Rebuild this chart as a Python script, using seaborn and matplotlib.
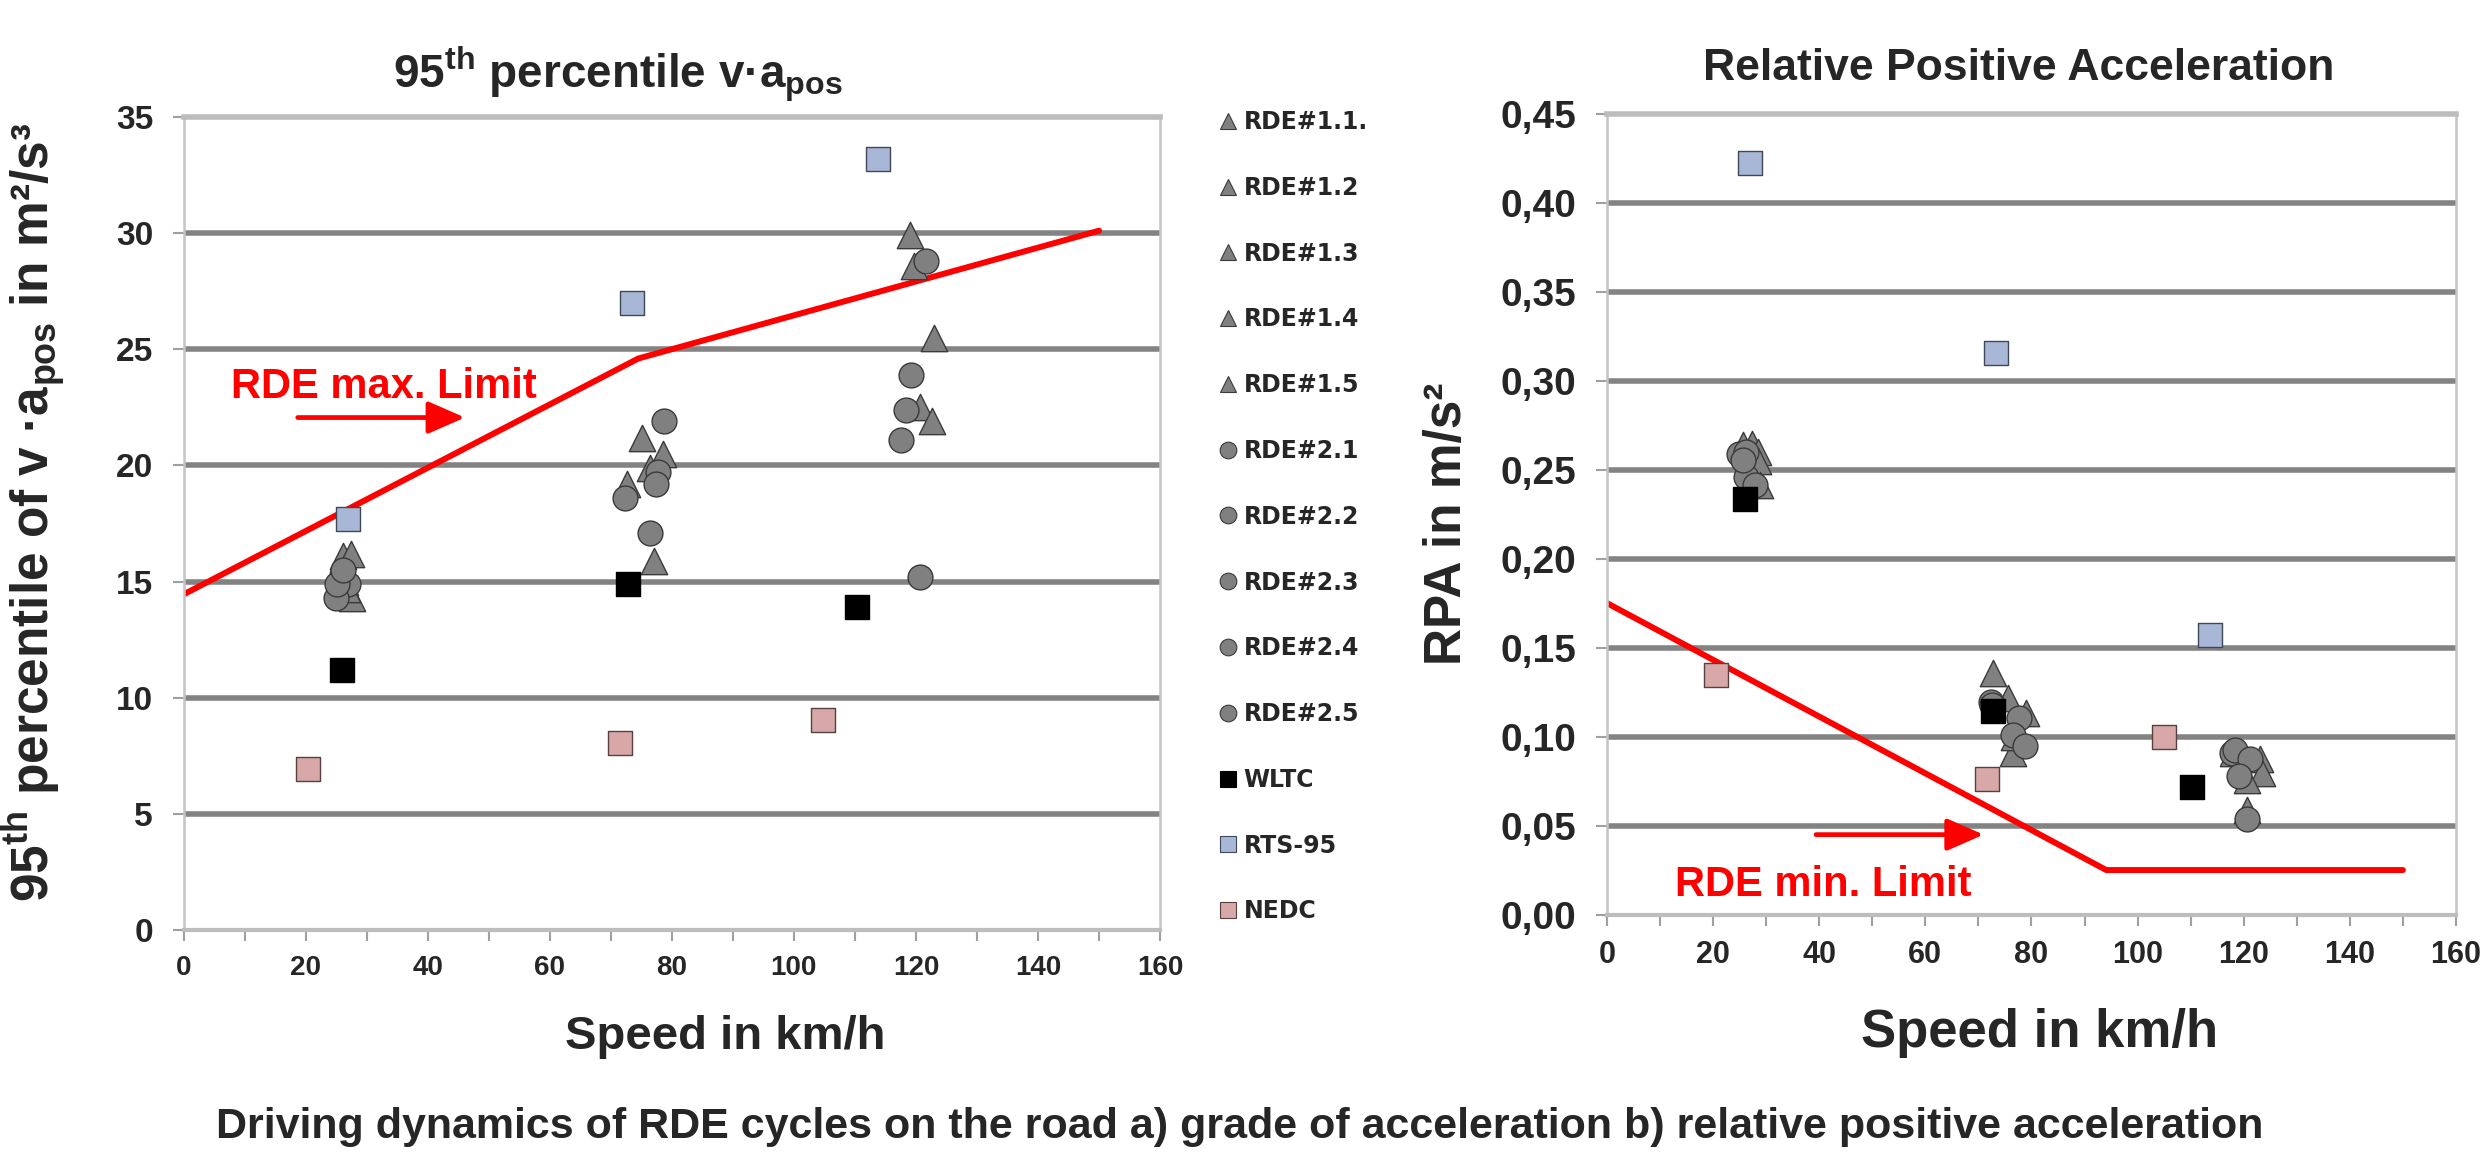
import numpy as np
import pandas as pd
import seaborn as sns
import matplotlib.pyplot as plt
from matplotlib.lines import Line2D
from matplotlib.ticker import FuncFormatter

# === Data ===
series_names = ["RDE#1.1.", "RDE#1.2", "RDE#1.3", "RDE#1.4", "RDE#1.5",
                "RDE#2.1", "RDE#2.2", "RDE#2.3", "RDE#2.4", "RDE#2.5",
                "WLTC", "RTS-95", "NEDC"]

# one row per series: urban, rural, motorway part of the cycle
va_speed = [
    [26.2, 75.1, 119.1], [27.5, 78.5, 119.6], [27.6, 76.4, 122.9], [26.5, 72.7, 120.7], [26.8, 77.0, 122.7],
    [26.0, 78.7, 121.6], [27.0, 77.8, 119.2], [25.0, 77.4, 118.4], [25.2, 72.3, 117.5], [26.2, 76.4, 120.7],
    [25.9, 72.8, 110.3], [26.9, 73.4, 113.7], [20.4, 71.5, 104.8],
]
va_value = [
    [16.1, 21.2, 29.9], [16.2, 20.5, 28.6], [14.3, 19.9, 25.5], [15.0, 19.2, 22.5], [14.7, 15.9, 21.9],
    [15.3, 21.9, 28.8], [14.9, 19.7, 23.9], [14.3, 19.2, 22.4], [14.9, 18.6, 21.1], [15.5, 17.1, 15.2],
    [11.2, 14.9, 13.9], [17.7, 27.0, 33.2], [6.95, 8.05, 9.05],
]

rpa_speed = [
    [25.7, 72.7, 123.1], [27.3, 75.5, 123.4], [28.5, 79.0, 120.6], [28.5, 76.6, 120.6], [28.8, 76.8, 118.0],
    [24.8, 72.3, 117.8], [26.3, 77.7, 118.4], [26.3, 76.5, 121.2], [27.9, 78.8, 119.2], [25.6, 72.6, 120.7],
    [26.1, 72.8, 110.2], [26.9, 73.3, 113.7], [20.5, 71.6, 104.9],
]
rpa_value = [
    [0.264, 0.136, 0.0876], [0.265, 0.122, 0.080], [0.260, 0.1135, 0.076], [0.255, 0.091, 0.059], [0.242, 0.100, 0.091],
    [0.259, 0.120, 0.091], [0.260, 0.111, 0.093], [0.246, 0.101, 0.0876], [0.242, 0.095, 0.078], [0.256, 0.118, 0.054],
    [0.234, 0.115, 0.072], [0.4225, 0.316, 0.1574], [0.135, 0.0766, 0.1003],
]

# RDE limit curves
va_limit_speed = [0, 74.5, 150]
va_limit_value = [14.45, 24.6, 30.1]
rpa_limit_speed = [0, 94.1, 150]
rpa_limit_value = [0.1754, 0.0254, 0.0254]

# === Styles ===
markers = ["^"] * 5 + ["o"] * 5 + ["s", "s", "s"]
fills = ["#808080"] * 10 + ["#000000", "#a9b7d6", "#d8a8a8"]
edges = ["#3a3a3a"] * 10 + ["#000000", "#404858", "#584040"]


def long_table(speeds, values):
    rows = []
    for name, xs, ys in zip(series_names, speeds, values):
        for x, y in zip(xs, ys):
            rows.append({"series": name, "speed": x, "value": y})
    return pd.DataFrame(rows)


va_df = long_table(va_speed, va_value)
rpa_df = long_table(rpa_speed, rpa_value)

sns.set_theme(style="white")
plt.rcParams["font.family"] = ["Liberation Sans", "DejaVu Sans"]
plt.rcParams["font.weight"] = "bold"
plt.rcParams["mathtext.fontset"] = "custom"
plt.rcParams["mathtext.rm"] = "Liberation Sans:bold"
plt.rcParams["mathtext.it"] = "Liberation Sans:bold"
plt.rcParams["mathtext.bf"] = "Liberation Sans:bold"

fig = plt.figure(figsize=(24.81, 11.52), dpi=100)
ax1 = fig.add_axes([0.0740, 0.1925, 0.3936, 0.7061])
ax2 = fig.add_axes([0.6477, 0.2055, 0.3422, 0.6953])


def draw_points(ax, df):
    for name, mk, fc, ec in zip(series_names, markers, fills, edges):
        size = 360 if mk == "^" else 320
        sns.scatterplot(data=df[df["series"] == name], x="speed", y="value", ax=ax,
                        marker=mk, color=fc, edgecolor=ec, linewidth=1.0, s=size,
                        legend=False, zorder=3)


def style_axes(ax, ymax, ystep, yfs, xfs):
    ax.set_xlim(0, 160)
    ax.set_ylim(0, ymax)
    ax.set_xticks(np.arange(0, 161, 20))
    ax.set_xticks(np.arange(0, 161, 10), minor=True)
    ax.set_yticks(np.arange(0, ymax + ystep / 2, ystep))
    ax.yaxis.grid(True, color="#838383", lw=4.0)
    gl = ax.get_ygridlines()
    gl[0].set_visible(False)
    gl[-1].set_visible(False)
    ax.xaxis.grid(False)
    for side in ["left", "right"]:
        ax.spines[side].set_color("#c4c4c4")
        ax.spines[side].set_linewidth(1.8)
    ax.spines["top"].set_color("#bdbdbd")
    ax.spines["top"].set_linewidth(4)
    ax.spines["bottom"].set_color("#bdbdbd")
    ax.spines["bottom"].set_linewidth(3)
    ax.tick_params(axis="both", which="both", direction="out", color="#a0a0a0",
                   width=1.5, length=8, left=True, bottom=True)
    ax.tick_params(axis="y", labelsize=yfs, pad=14)
    ax.tick_params(axis="x", labelsize=xfs, pad=10)
    for lab in ax.get_xticklabels() + ax.get_yticklabels():
        lab.set_fontweight("bold")


# === Left: 95th percentile v*a_pos ===
sns.lineplot(x=va_limit_speed, y=va_limit_value, ax=ax1, color="#ff0000", lw=4.3, sort=False, zorder=2)
draw_points(ax1, va_df)
style_axes(ax1, 35, 5, 24, 20)
ax1.set_xlabel("Speed in km/h", fontsize=34, fontweight="bold")
ax1.xaxis.set_label_coords(0.555, -0.131)
ax1.xaxis.label.set_va("center")
ax1.set_ylabel("95$^{th}$ percentile of v ·a$_{pos}$ in m²/s³", fontsize=37, fontweight="bold")
ax1.yaxis.set_label_coords(-0.153, 0.514)
ax1.yaxis.label.set_va("center")
ax1.text(7.7, 22.9, "RDE max. Limit", color="#ff0000", fontsize=30, fontweight="bold", va="baseline")
ax1.annotate("", xy=(46.1, 22.06), xytext=(18.7, 22.06),
             arrowprops=dict(arrowstyle="-|>,head_length=0.8,head_width=0.35", color="#ff0000",
                             lw=3.4, mutation_scale=28, shrinkA=0, shrinkB=0))

# === Right: relative positive acceleration ===
sns.lineplot(x=rpa_limit_speed, y=rpa_limit_value, ax=ax2, color="#ff0000", lw=4.3, sort=False, zorder=2)
draw_points(ax2, rpa_df)
style_axes(ax2, 0.45, 0.05, 28, 22)
ax2.yaxis.set_major_formatter(FuncFormatter(lambda v, p: f"{v:.2f}".replace(".", ",")))
ax2.set_xlabel("Speed in km/h", fontsize=38, fontweight="bold")
ax2.xaxis.set_label_coords(0.509, -0.147)
ax2.xaxis.label.set_va("center")
ax2.set_ylabel("RPA in m/s²", fontsize=37, fontweight="bold")
ax2.yaxis.set_label_coords(-0.188, 0.4885)
ax2.yaxis.label.set_va("center")
ax2.text(12.8, 0.011, "RDE min. Limit", color="#ff0000", fontsize=30, fontweight="bold", va="baseline")
ax2.annotate("", xy=(71.0, 0.0453), xytext=(39.4, 0.0453),
             arrowprops=dict(arrowstyle="-|>,head_length=0.8,head_width=0.35", color="#ff0000",
                             lw=3.4, mutation_scale=28, shrinkA=0, shrinkB=0))

# === Titles, legend, caption ===
fig.text(618 / 2481, 1 - 88 / 1152, "95$^{th}$ percentile v·a$_{pos}$", ha="center", va="baseline",
         fontsize=33, fontweight="bold")
fig.text(2019 / 2481, 1 - 80 / 1152, "Relative Positive Acceleration", ha="center", va="baseline",
         fontsize=32, fontweight="bold")

handles = [Line2D([], [], ls="", marker=mk, markerfacecolor=fc, markeredgecolor=ec,
                  markeredgewidth=0.8, markersize=12)
           for mk, fc, ec in zip(markers, fills, edges)]
fig.legend(handles, series_names, loc="upper left", bbox_to_anchor=(1220 / 2481, 1 - 110 / 1152),
           frameon=False, handlelength=0.7, handletextpad=0.3, labelspacing=1.77, borderaxespad=0,
           borderpad=0, prop={"family": ["DejaVu Sans"], "weight": "bold", "size": 17})

fig.text(1240 / 2481, 1 - 1126.7 / 1152,
         "Driving dynamics of RDE cycles on the road a) grade of acceleration b) relative positive acceleration",
         ha="center", va="center", fontsize=31, fontweight="bold")

fig.savefig("out.png", dpi=100)
